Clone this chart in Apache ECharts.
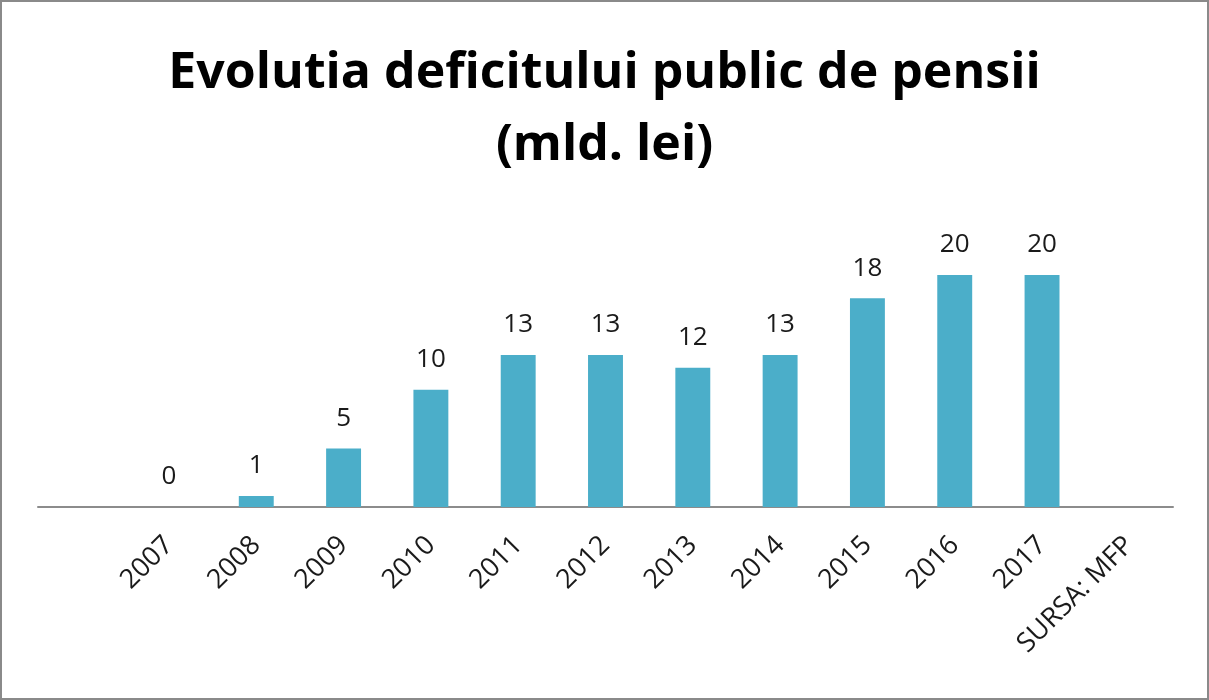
<!DOCTYPE html>
<html>
<head>
<meta charset="utf-8">
<script src="https://cdn.jsdelivr.net/npm/echarts@6/dist/echarts.min.js"></script>
<style>
html,body{margin:0;padding:0;background:#fff;}
#frame{position:absolute;left:0;top:0;width:1205px;height:696px;border:2px solid #8a8a8a;background:#fff;}
#chart{position:absolute;left:0;top:0;width:1209px;height:700px;}
</style>
</head>
<body>
<div id="frame"></div>
<div id="chart"></div>
<script>
var titleLines = ["Evolutia deficitului public de pensii", "(mld. lei)"];
var categories = ["", "2007", "2008", "2009", "2010", "2011", "2012", "2013", "2014", "2015", "2016", "2017", "SURSA: MFP"];
var values = [null, 0, 0.95, 5.05, 10.1, 13.1, 13.1, 12.0, 13.1, 18.0, 20.0, 20.0, null];

var chart = echarts.init(document.getElementById('chart'), null, {renderer: 'canvas'});
chart.setOption({
  backgroundColor: 'transparent',
  animation: false,
  title: {
    text: titleLines.join('\n'),
    left: 'center',
    top: 33,
    textStyle: {
      fontFamily: 'Open Sans',
      fontWeight: 'bold',
      fontSize: 50,
      lineHeight: 72,
      color: '#000'
    }
  },
  grid: {left: 38, right: 36, top: 217, bottom: 193, containLabel: false},
  xAxis: {
    type: 'category',
    data: categories,
    axisLine: {show: true, lineStyle: {color: '#8c8c8c', width: 2}},
    axisTick: {show: false},
    axisLabel: {
      interval: 0,
      rotate: 45,
      margin: 34,
      fontFamily: 'Open Sans',
      fontSize: 27,
      color: '#1a1a1a'
    }
  },
  yAxis: {
    type: 'value',
    min: 0,
    max: 25,
    show: false,
    splitLine: {show: false}
  },
  series: [{
    type: 'bar',
    data: values,
    barWidth: '40%',
    itemStyle: {color: '#4BAEC9'},
    label: {
      show: true,
      position: 'top',
      distance: 17,
      fontFamily: 'Open Sans',
      fontSize: 26,
      color: '#1a1a1a',
      formatter: function (p) { return p.value == null ? '' : String(Math.round(p.value)); }
    }
  }]
});
</script>
</body>
</html>
